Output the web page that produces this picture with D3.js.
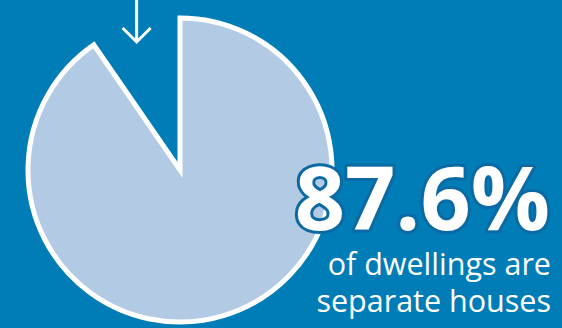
<!DOCTYPE html>
<html>
<head>
<meta charset="utf-8">
<script src="https://cdn.jsdelivr.net/npm/d3@7"></script>
<style>
  html, body { margin: 0; padding: 0; background: #007cb6; }
  svg { display: block; }
</style>
</head>
<body>
<svg id="chart" width="562" height="328"></svg>
<script>
// ---- data ----
const categories = ["Separate houses", "Other dwellings"];
const shares = [90.4, 9.6];          // drawn wedge proportions as seen in the picture
const headline = "87.6%";
const captionLines = ["of dwellings are", "separate houses"];

// ---- layout ----
const W = 562, H = 328;
const cx = 180, cy = 170, R = 152;
const bg = "#007cb6", pieFill = "#b2cae3";

const svg = d3.select("#chart");
svg.append("rect").attr("width", W).attr("height", H).attr("fill", bg);

const pie = d3.pie().sort(null).startAngle(0).endAngle(2 * Math.PI);
const arcs = pie(shares);
const arc = d3.arc().innerRadius(0).outerRadius(R);

const g = svg.append("g").attr("transform", `translate(${cx},${cy})`);
g.selectAll("path.slice")
  .data(arcs.filter((d, i) => i === 0))
  .join("path")
  .attr("class", "slice")
  .attr("d", arc)
  .attr("fill", pieFill)
  .attr("stroke", "#ffffff")
  .attr("stroke-width", 5)
  .attr("stroke-linejoin", "miter")
  .attr("stroke-miterlimit", 10);

// arrow pointing into the missing wedge
const gap = arcs[1];
const mid = (gap.startAngle + gap.endAngle) / 2;
const ax = cx + Math.sin(mid) * 146;
const tipY = 42, head = 14;
const arrow = svg.append("g")
  .attr("fill", "none").attr("stroke", "#ffffff").attr("stroke-width", 3)
  .attr("stroke-linecap", "butt").attr("stroke-linejoin", "miter");
arrow.append("line").attr("x1", ax).attr("x2", ax).attr("y1", -2).attr("y2", tipY - 1);
arrow.append("path").attr("d", `M${ax - head},${tipY - head} L${ax},${tipY} L${ax + head},${tipY - head}`);

// headline number
svg.append("text")
  .attr("x", 550).attr("y", 230)
  .attr("text-anchor", "end")
  .attr("font-family", "'Open Sans', sans-serif")
  .attr("font-weight", 700)
  .attr("font-size", 88)
  .attr("fill", "#ffffff")
  .attr("stroke", "#0b6aa3")
  .attr("stroke-width", 6)
  .attr("paint-order", "stroke")
  .attr("stroke-linejoin", "round")
  .text(headline);

// caption
svg.append("g").selectAll("text")
  .data(captionLines)
  .join("text")
  .attr("x", 551)
  .attr("y", (d, i) => 275 + i * 37)
  .attr("text-anchor", "end")
  .attr("font-family", "'Open Sans', sans-serif")
  .attr("font-size", 30.5)
  .attr("fill", "#ffffff")
  .text(d => d);
</script>
</body>
</html>
